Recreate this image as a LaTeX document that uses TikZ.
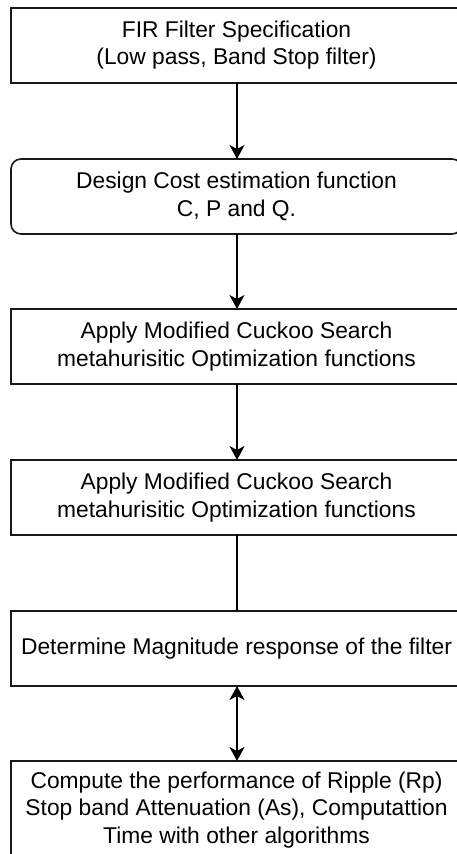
\documentclass[tikz,border=0pt]{standalone}
\usepackage{fontspec}
\setmainfont{Liberation Sans}
\usetikzlibrary{arrows.meta}
\begin{document}
\begin{tikzpicture}[x=1pt,y=-1pt,
  box/.style={draw=black!90, line width=1.6pt, minimum width=451pt, inner sep=0pt, outer sep=0pt,
    align=center, font=\fontsize{22.8}{27.5}\selectfont, fill=white},
  rbox/.style={box, rounded corners=10pt},
  conn/.style={line width=1.3pt, -{Stealth[length=14pt,width=15pt,inset=4pt]}},
  plain/.style={line width=1.3pt},
  dconn/.style={line width=2pt, {Stealth[length=14pt,width=15pt,inset=4pt]}-{Stealth[length=14pt,width=15pt,inset=4pt]}}]
\useasboundingbox (0,0) rectangle (457,854);
\clip (0,0) rectangle (457,854);
\fill[white] (0,0) rectangle (457,854);
\node[box, minimum height=75pt] (b1) at (236.5,45.2) {FIR Filter Specification\\(Low pass, Band Stop filter)};
\node[rbox, minimum height=75pt] (b2) at (236.5,196.5) {Design Cost estimation function\\C, P and Q.};
\node[box, minimum height=75pt] (b3) at (236.5,346.5) {Apply Modified Cuckoo Search\\metahurisitic Optimization functions};
\node[box, minimum height=75pt] (b4) at (236.5,497.5) {Apply Modified Cuckoo Search\\metahurisitic Optimization functions};
\node[box, minimum height=75pt] (b5) at (236.5,648.5) {Determine Magnitude response of the filter};
\node[box, minimum height=98pt] (b6) at (236.5,810) {Compute the performance of Ripple (Rp)\\Stop band Attenuation (As), Computattion\\Time with other algorithms};
\draw[conn] (b1.south -| 237,0) -- (b2.north -| 237,0);
\draw[conn] (b2.south -| 237,0) -- (b3.north -| 237,0);
\draw[conn] (b3.south -| 237,0) -- (b4.north -| 237,0);
\draw[plain] (b4.south -| 237,0) -- (b5.north -| 237,0);
\draw[dconn] (b5.south -| 237,0) -- (b6.north -| 237,0);
\end{tikzpicture}
\end{document}
